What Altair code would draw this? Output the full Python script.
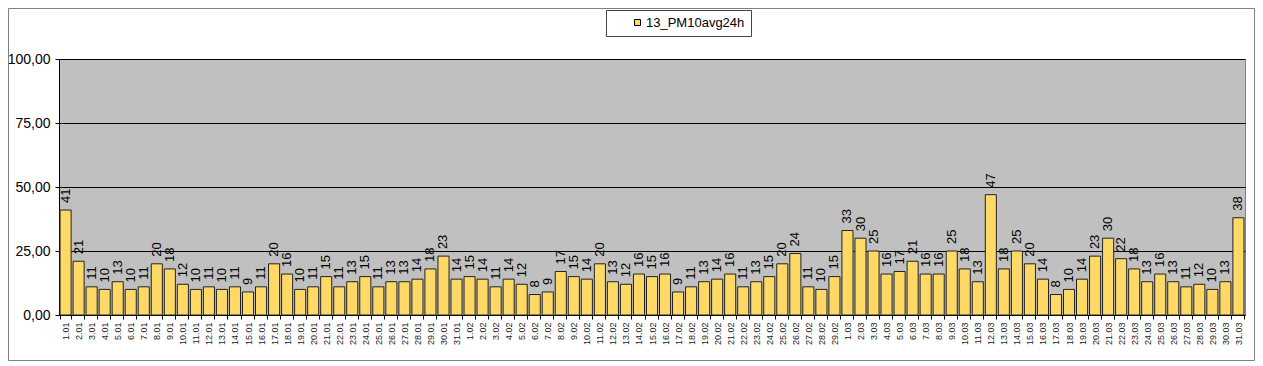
import altair as alt
import pandas as pd

# Daily PM10 24h averages (Jan–Mar)
jan_vals = [41, 21, 11, 10, 13, 10, 11, 20, 18, 12, 10, 11, 10, 11, 9, 11, 20, 16, 10, 11,
            15, 11, 13, 15, 11, 13, 13, 14, 18, 23, 14]
feb_vals = [15, 14, 11, 14, 12, 8, 9, 17, 15, 14, 20, 13, 12, 16, 15, 16, 9, 11, 13, 14,
            16, 11, 13, 15, 20, 24, 11, 10, 15]
mar_vals = [33, 30, 25, 16, 17, 21, 16, 16, 25, 18, 13, 47, 18, 25, 20, 14, 8, 10, 14, 23,
            30, 22, 18, 13, 16, 13, 11, 12, 10, 13, 38]

jan_labels = [f"{d}.01" for d in range(1, 32)]
feb_labels = [f"{d}.02" for d in range(1, 30)]
mar_labels = [f"{d}.03" for d in range(1, 32)]

y_ticks = [0, 25, 50, 75, 100]
series_name = "13_PM10avg24h"

dates = jan_labels + feb_labels + mar_labels
values = jan_vals + feb_vals + mar_vals
df = pd.DataFrame({"date": dates, "value": values, "series": series_name})

FONT = "Liberation Sans"

x_enc = alt.X(
    "date:N",
    sort=dates,
    scale=alt.Scale(paddingInner=0.15, paddingOuter=0.08),
    axis=alt.Axis(
        title=None, labelAngle=270, labelFontSize=9, labelFont=FONT, labelColor="#222222",
        tickBand="extent", tickSize=4, tickColor="black", domainColor="black",
        labelPadding=3, labelOverlap=False,
    ),
)
y_enc = alt.Y(
    "value:Q",
    scale=alt.Scale(domain=[0, 100], nice=False),
    axis=alt.Axis(
        title=None, values=y_ticks,
        labelExpr="replace(format(datum.value, '.2f'), '.', ',')",
        labelFontSize=14, labelFont=FONT, labelColor="black",
        tickSize=4, labelPadding=5, tickColor="black", domainColor="black",
        gridColor="black", gridWidth=1,
    ),
)

nb = "\u00a0\u00a0\u00a0\u00a0"
legend = alt.Legend(
    orient="none", legendX=547, legendY=-49, title=None,
    symbolType="square", symbolSize=36, symbolStrokeColor="black", symbolStrokeWidth=1,
    symbolOffset=19, labelOffset=2, labelFontSize=13, labelFont=FONT, labelColor="black",
    strokeColor="#444444", fillColor="white", padding=6,
    labelExpr="datum.label + '" + nb + "'",
)

frame = alt.Chart(pd.DataFrame({"k": [0]})).mark_rect(
    fill="transparent", stroke="#808080", strokeWidth=1
).encode(
    x=alt.value(-50.5), x2=alt.value(1195.5), y=alt.value(-50.5), y2=alt.value(301.5)
)

bars = alt.Chart(df).mark_bar(stroke="#222222", strokeWidth=1).encode(
    x=x_enc,
    y=y_enc,
    color=alt.Color("series:N", scale=alt.Scale(range=["#FFD966"]), legend=legend),
)

labels = alt.Chart(df).mark_text(
    angle=270, align="left", baseline="middle", dx=7, fontSize=13, font=FONT, color="black"
).encode(
    x=alt.X("date:N", sort=dates),
    y=alt.Y("value:Q"),
    text=alt.Text("value:Q", format="d"),
)

chart = alt.layer(frame, bars, labels).properties(
    width=1186, height=256, autosize="none",
    padding={"left": 51, "top": 51, "right": 10, "bottom": 46},
    background="white",
).configure_view(fill="#C0C0C0", stroke="#808080")

chart.save("out.html", embed_options={"renderer": "svg", "actions": False})
